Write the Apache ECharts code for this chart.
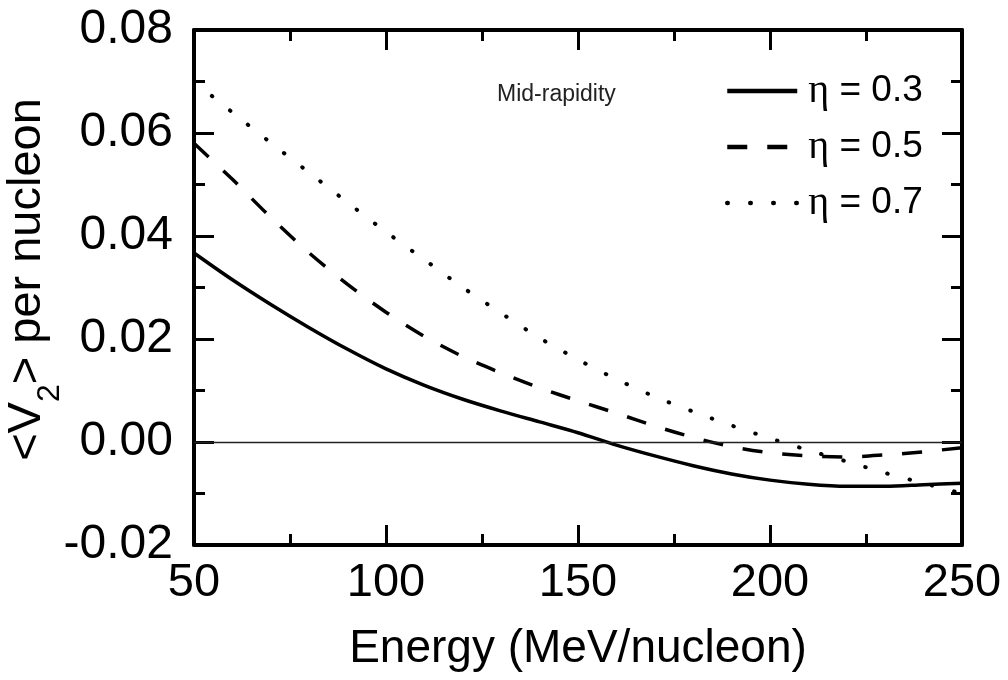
<!DOCTYPE html>
<html>
<head>
<meta charset="utf-8">
<script src="https://cdn.jsdelivr.net/npm/echarts@6/dist/echarts.min.js"></script>
<style>html,body{margin:0;padding:0;background:#fff}#c{width:1008px;height:680px}</style>
</head>
<body>
<div id="c"></div>
<script>
const energy = [50, 60, 70, 80, 90, 100, 110, 120, 130, 140, 150, 160, 170, 180, 190, 200, 210, 220, 230, 240, 250];
const eta03 = [0.0367, 0.0315, 0.0267, 0.0222, 0.0180, 0.0142, 0.0110, 0.0083, 0.0060, 0.0039, 0.0018, -0.0006, -0.0027, -0.0046, -0.0062, -0.0074, -0.0082, -0.0086, -0.0086, -0.0083, -0.0080];
const eta05 = [0.0580, 0.0510, 0.0436, 0.0367, 0.0306, 0.0252, 0.0205, 0.0166, 0.0134, 0.0105, 0.0080, 0.0056, 0.0031, 0.0009, -0.0009, -0.0021, -0.0027, -0.0029, -0.0025, -0.0019, -0.0011];
const eta07 = [0.0700, 0.0640, 0.0581, 0.0523, 0.0465, 0.0408, 0.0354, 0.0300, 0.0250, 0.0202, 0.0160, 0.0122, 0.0088, 0.0059, 0.0032, 0.0007, -0.0016, -0.0038, -0.0060, -0.0080, -0.0100];
const seriesNames = ['η = 0.3', 'η = 0.5', 'η = 0.7'];
const xTicks = [50, 100, 150, 200, 250];
const yTicks = [-0.02, 0.00, 0.02, 0.04, 0.06, 0.08];
const annotation = 'Mid-rapidity';
const xTitle = 'Energy (MeV/nucleon)';

const FONT = "'Liberation Sans', Arial, sans-serif";
const pair = ys => energy.map((x, i) => [x, ys[i]]);

function axisCommon(showLabel) {
  return {
    axisLine: { show: true, onZero: false, lineStyle: { color: '#000', width: 4 } },
    axisTick: { show: true, inside: true, length: 20, lineStyle: { color: '#000', width: 3 } },
    minorTick: { show: true, splitNumber: 2, length: 11, lineStyle: { color: '#000', width: 3 } },
    splitLine: { show: false },
    axisLabel: { show: showLabel, fontSize: 47, color: '#000', fontFamily: FONT }
  };
}

const chart = echarts.init(document.getElementById('c'), null, { renderer: 'canvas' });
const xMin = xTicks[0], xMax = xTicks[xTicks.length - 1], xInt = xTicks[1] - xTicks[0];
const yMin = yTicks[0], yMax = yTicks[yTicks.length - 1], yInt = 0.02;

chart.setOption({
  animation: false,
  backgroundColor: '#fff',
  grid: { left: 194, right: 46, top: 30, bottom: 135, containLabel: false, outerBoundsMode: 'none' },
  xAxis: [
    Object.assign(axisCommon(true), {
      type: 'value', position: 'bottom', min: xMin, max: xMax, interval: xInt,
      name: xTitle, nameLocation: 'middle', nameGap: 81, nameMoveOverlap: false,
      nameTextStyle: { fontSize: 46, color: '#000', fontFamily: FONT },
      axisLabel: { show: true, fontSize: 47, color: '#000', fontFamily: FONT, margin: 15 }
    }),
    Object.assign(axisCommon(false), {
      type: 'value', position: 'top', min: xMin, max: xMax, interval: xInt
    })
  ],
  yAxis: [
    Object.assign(axisCommon(true), {
      type: 'value', position: 'left', min: yMin, max: yMax, interval: yInt,
      axisLabel: { show: true, fontSize: 48, color: '#000', fontFamily: FONT, margin: 21,
        formatter: v => v.toFixed(2) },
      name: '{a|<V}{s|2}{a|> per nucleon}', nameLocation: 'middle', nameGap: 128,
      nameMoveOverlap: false,
      nameTextStyle: {
        color: '#000', fontFamily: FONT, fontSize: 47, padding: [0, 0, 0, 16],
        rich: {
          a: { fontSize: 47, lineHeight: 78, color: '#000', fontFamily: FONT },
          s: { fontSize: 32, lineHeight: 32, verticalAlign: 'bottom', color: '#000', fontFamily: FONT }
        }
      }
    }),
    Object.assign(axisCommon(false), {
      type: 'value', position: 'right', min: yMin, max: yMax, interval: yInt
    })
  ],
  legend: {
    orient: 'vertical', left: 720, top: 66,
    itemWidth: 70, itemHeight: 16, itemGap: 16,
    data: seriesNames,
    itemStyle: { color: 'rgba(0,0,0,0)', borderWidth: 0, opacity: 0 },
    lineStyle: { width: 4.5, color: '#000' },
    formatter: name => '{e|' + name.charAt(0) + '}{t|' + name.slice(1) + '}',
    textStyle: {
      color: '#000', fontFamily: FONT, fontSize: 37, padding: [0, 0, 0, 6],
      rich: {
        e: { fontFamily: "'Liberation Serif', 'DejaVu Serif', serif", fontSize: 40, color: '#000' },
        t: { fontFamily: FONT, fontSize: 37, color: '#000' }
      }
    }
  },
  graphic: [{
    type: 'text', left: 497, top: 83,
    style: { text: annotation, fontSize: 23, fontFamily: FONT, fill: '#222' }
  }],
  series: [
    {
      name: seriesNames[0], type: 'line', data: pair(eta03), smooth: 0.3,
      symbol: 'none', showSymbol: false,
      lineStyle: { color: '#000', width: 3.5, type: 'solid' },
      itemStyle: { color: '#000' },
      markLine: {
        silent: true, symbol: ['none', 'none'], label: { show: false },
        lineStyle: { color: '#222', width: 1.3, type: 'solid' },
        data: [{ yAxis: 0 }]
      }
    },
    {
      name: seriesNames[1], type: 'line', data: pair(eta05), smooth: 0.3,
      symbol: 'none', showSymbol: false,
      lineStyle: { color: '#000', width: 3.5, type: [20, 20] },
      itemStyle: { color: '#000' }
    },
    {
      name: seriesNames[2], type: 'line', data: pair(eta07), smooth: 0.3,
      symbol: 'none', showSymbol: false,
      lineStyle: { color: '#000', width: 4, type: [0.5, 22.5], cap: 'round' },
      itemStyle: { color: '#000' }
    }
  ]
});
</script>
</body>
</html>
